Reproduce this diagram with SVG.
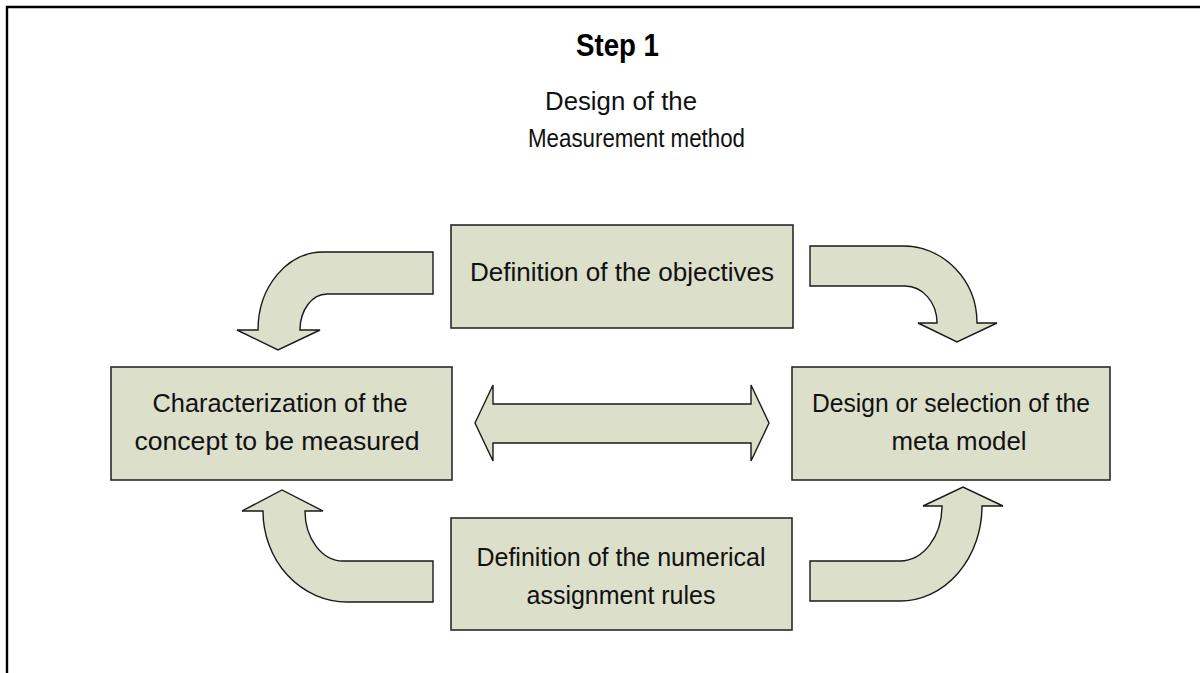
<svg xmlns="http://www.w3.org/2000/svg" width="1200" height="673" viewBox="0 0 1200 673">
  <style>
    .box { fill: #dcdfca; stroke: #2a2a2a; stroke-width: 1.6; }
    .arrow { fill: #dcdfca; stroke: #1a1a1a; stroke-width: 1.4; stroke-linejoin: miter; }
    .lbl { font-family: "Liberation Sans", Arial, sans-serif; font-size: 25px; fill: #111; text-anchor: middle; }
    .title { font-family: "Liberation Sans", Arial, sans-serif; font-size: 32px; font-weight: bold; fill: #000; }
    .sub { font-family: "Liberation Sans", Arial, sans-serif; font-size: 25px; fill: #111; }
  </style>

  <rect width="1200" height="673" fill="#ffffff"/>

  <!-- frame -->
  <path d="M 7,673 L 7,7 L 1200,7" fill="none" stroke="#000" stroke-width="2.4"/>

  <!-- heading -->
  <g id="heading">
    <text class="title" x="576" y="56" textLength="83" lengthAdjust="spacingAndGlyphs">Step 1</text>
    <text class="sub" x="545" y="110" textLength="152" lengthAdjust="spacingAndGlyphs">Design of the</text>
    <text class="sub" x="528" y="147" textLength="217" lengthAdjust="spacingAndGlyphs">Measurement method</text>
  </g>

  <!-- connectors -->
  <g id="connectors">
    <path class="arrow" d="M 433,252 L 323,252 A 65,78 0 0 0 258,330 L 237,330 L 278,350 L 320,330 L 300,330 A 27,36 0 0 1 327,294 L 433,294 Z"/>
    <path class="arrow" d="M 810,246 L 903,246 A 74,77 0 0 1 977,323 L 997,323 L 957,342 L 918,323 L 937,323 A 32,37 0 0 0 905,286 L 810,286 Z"/>
    <path class="arrow" d="M 475,423 L 493,385 L 493,404 L 751,404 L 751,385 L 769,423 L 751,461 L 751,443 L 493,443 L 493,461 Z"/>
    <path class="arrow" d="M 433,561 L 343,561 A 38,50 0 0 1 305,511 L 323,511 L 282,490 L 242,511 L 263,511 A 84,91 0 0 0 347,602 L 433,602 Z"/>
    <path class="arrow" d="M 810,561 L 900,561 A 42,55 0 0 0 942,506 L 923,506 L 963,487 L 1003,506 L 982,506 A 82,95 0 0 1 900,601 L 810,601 Z"/>
  </g>

  <g id="objectives">
    <rect class="box" x="451" y="225" width="342" height="103"/>
    <text class="lbl" x="622" y="281" textLength="304" lengthAdjust="spacingAndGlyphs">Definition of the objectives</text>
  </g>

  <g id="concept">
    <rect class="box" x="111" y="367" width="341" height="113"/>
    <text class="lbl" x="280" y="412" textLength="255" lengthAdjust="spacingAndGlyphs">Characterization of the</text>
    <text class="lbl" x="277" y="450" textLength="285" lengthAdjust="spacingAndGlyphs">concept to be measured</text>
  </g>

  <g id="metamodel">
    <rect class="box" x="792" y="367" width="318" height="113"/>
    <text class="lbl" x="951" y="412" textLength="278" lengthAdjust="spacingAndGlyphs">Design or selection of the</text>
    <text class="lbl" x="959" y="450" textLength="135" lengthAdjust="spacingAndGlyphs">meta model</text>
  </g>

  <g id="rules">
    <rect class="box" x="451" y="518" width="341" height="112"/>
    <text class="lbl" x="621" y="566">Definition of the numerical</text>
    <text class="lbl" x="621" y="604">assignment rules</text>
  </g>
</svg>
